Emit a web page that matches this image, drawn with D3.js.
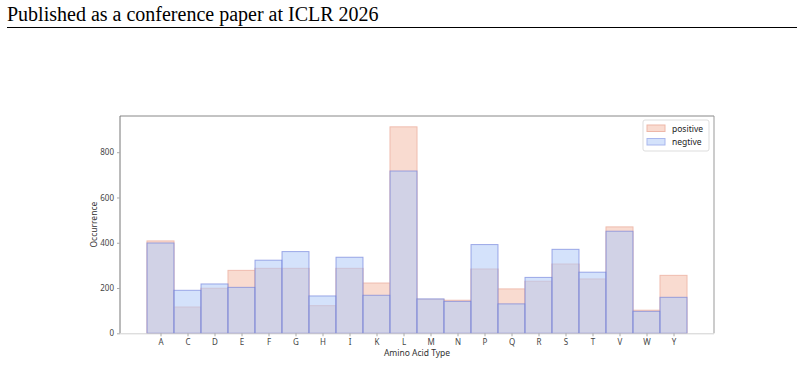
<!DOCTYPE html>
<html>
<head>
<meta charset="utf-8">
<script src="https://cdn.jsdelivr.net/npm/d3@7"></script>
<style>
  body { margin: 0; background: #fff; }
  svg text { font-family: "Noto Sans", "DejaVu Sans", sans-serif; }
</style>
</head>
<body>
<svg id="chart" width="804" height="366"></svg>
<script>
// amino acid categories
const aminoAcids = ["A","C","D","E","F","G","H","I","K","L","M","N","P","Q","R","S","T","V","W","Y"];
// occurrence counts
const positiveCounts = [408,116,199,278,287,287,122,287,222,912,150,146,284,196,230,306,240,470,102,256];
const negativeCounts = [399,190,218,203,323,361,165,336,168,717,152,141,392,130,247,371,270,451,97,159];
const yTicks = [0,200,400,600,800];

const svg = d3.select("#chart");

// page header
svg.append("text")
    .attr("x", 7).attr("y", 21)
    .style("font-family", "'Liberation Serif', 'Times New Roman', serif")
    .attr("font-size", 20)
    .attr("fill", "#000")
    .text("Published as a conference paper at ICLR 2026");
svg.append("line")
    .attr("x1", 7).attr("x2", 797)
    .attr("y1", 27.5).attr("y2", 27.5)
    .attr("stroke", "#000").attr("stroke-width", 1);

const plot = { left: 120, right: 714, top: 116, bottom: 333.3 };

// one empty slot on each side of the bars
const x = d3.scaleLinear()
    .domain([-1, aminoAcids.length + 1])
    .range([plot.left, plot.right]);
const y = d3.scaleLinear()
    .domain([0, 960])
    .range([plot.bottom, plot.top]);

const barW = x(1) - x(0);

// positive bars
svg.append("g").selectAll("rect")
    .data(positiveCounts)
    .join("rect")
    .attr("x", (d, i) => x(i))
    .attr("y", d => y(d))
    .attr("width", barW)
    .attr("height", d => y(0) - y(d))
    .attr("fill", "#f9dbd0")
    .attr("stroke", "#efbcae")
    .attr("stroke-width", 1);

// negative bars, semi transparent over the positive ones
svg.append("g").selectAll("rect")
    .data(negativeCounts)
    .join("rect")
    .attr("x", (d, i) => x(i))
    .attr("y", d => y(d))
    .attr("width", barW)
    .attr("height", d => y(0) - y(d))
    .attr("fill", "#b1caf8")
    .attr("fill-opacity", 0.55)
    .attr("stroke", "#6676d8")
    .attr("stroke-opacity", 0.6)
    .attr("stroke-width", 1);

// spines
svg.append("line")
    .attr("x1", plot.left).attr("x2", plot.right)
    .attr("y1", plot.top).attr("y2", plot.top)
    .attr("stroke", "#888");
svg.append("line")
    .attr("x1", plot.right).attr("x2", plot.right)
    .attr("y1", plot.top).attr("y2", plot.bottom)
    .attr("stroke", "#999");
svg.append("line")
    .attr("x1", plot.left).attr("x2", plot.left)
    .attr("y1", plot.top).attr("y2", plot.bottom)
    .attr("stroke", "#777");
svg.append("line")
    .attr("x1", plot.left).attr("x2", plot.right)
    .attr("y1", plot.bottom + 0.5).attr("y2", plot.bottom + 0.5)
    .attr("stroke", "#d0d0d0");

// y axis
const yAxis = svg.append("g")
    .attr("transform", `translate(${plot.left},0)`)
    .call(d3.axisLeft(y).tickValues(yTicks).tickSize(3).tickPadding(3));
yAxis.select(".domain").remove();
yAxis.selectAll(".tick line").attr("stroke", "#aaa");
yAxis.selectAll(".tick text")
    .attr("font-size", 8)
    .attr("fill", "#444");

// x axis
const xAxis = svg.append("g")
    .attr("transform", `translate(0,${plot.bottom})`)
    .call(d3.axisBottom(x)
        .tickValues(d3.range(aminoAcids.length).map(i => i + 0.5))
        .tickFormat((d, i) => aminoAcids[i])
        .tickSize(3).tickPadding(3));
xAxis.select(".domain").remove();
xAxis.selectAll(".tick line").attr("stroke", "#aaa");
xAxis.selectAll(".tick text")
    .attr("font-size", 8)
    .attr("fill", "#444");

// axis titles
svg.append("text")
    .attr("x", (plot.left + plot.right) / 2)
    .attr("y", 356)
    .attr("text-anchor", "middle")
    .attr("font-size", 8.5)
    .attr("fill", "#333")
    .text("Amino Acid Type");
svg.append("text")
    .attr("transform", `translate(97,${(plot.top + plot.bottom) / 2}) rotate(-90)`)
    .attr("text-anchor", "middle")
    .attr("font-size", 8.5)
    .attr("fill", "#333")
    .text("Occurrence");

// legend
const legend = svg.append("g").attr("transform", "translate(643,120)");
legend.append("rect")
    .attr("width", 66).attr("height", 31).attr("rx", 2)
    .attr("fill", "#fff").attr("stroke", "#ddd");
const legendItems = [
    { label: "positive", fill: "#f9dbd0", stroke: "#eeb7a8" },
    { label: "negtive", fill: "#d4e2fb", stroke: "#a9b7ee" }
];
legendItems.forEach((item, i) => {
    legend.append("rect")
        .attr("x", 4).attr("y", 5 + i * 13.5)
        .attr("width", 18).attr("height", 6.5)
        .attr("fill", item.fill).attr("stroke", item.stroke);
    legend.append("text")
        .attr("x", 29).attr("y", 11.5 + i * 13.5)
        .attr("font-size", 8.5)
        .attr("fill", "#222")
        .text(item.label);
});
</script>
</body>
</html>
